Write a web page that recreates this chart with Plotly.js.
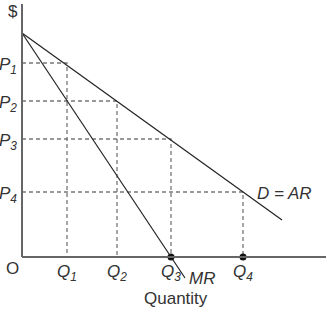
<!DOCTYPE html>
<html>
<head>
<meta charset="utf-8">
<script src="https://cdn.plot.ly/plotly-3.0.1.min.js"></script>
<style>html,body{margin:0;padding:0;background:#fff;}#chart{width:326px;height:310px;}</style>
</head>
<body>
<div id="chart"></div>
<script>
// Read values (data units)
var demandQ = [0, 26];
var demandP = [22.4, 3.7];
var mrQ = [0, 16.3];
var mrP = [22.4, -2.1];
var qLevels = [4.5, 9.5, 14.9, 22.1];
var pLevels = [19.4, 15.6, 11.8, 6.5];
var qLabels = ['<i>Q<sub>1</sub></i>', '<i>Q<sub>2</sub></i>', '<i>Q<sub>3</sub></i>', '<i>Q<sub>4</sub></i>'];
var pLabels = ['<i>P<sub>1</sub></i>', '<i>P<sub>2</sub></i>', '<i>P<sub>3</sub></i>', '<i>P<sub>4</sub></i>'];
var dotQ = [14.9, 22.1];
var dotP = [0, 0];

var traces = [];
var dashStyle = {color: '#777', width: 1.3, dash: '4px,3px'};
for (var i = 0; i < qLevels.length; i++) {
  traces.push({x: [0, qLevels[i], qLevels[i]], y: [pLevels[i], pLevels[i], 0],
    mode: 'lines', line: dashStyle, hoverinfo: 'skip', showlegend: false});
}
traces.push({x: demandQ, y: demandP, mode: 'lines', line: {color: '#222', width: 1.2}, showlegend: false});
traces.push({x: mrQ, y: mrP, mode: 'lines', line: {color: '#222', width: 1.2}, showlegend: false});
traces.push({x: dotQ, y: dotP, mode: 'markers', marker: {color: '#111', size: 7}, showlegend: false});

var font = {family: 'Liberation Sans, Arial, sans-serif', size: 17, color: '#333'};
var ann = [];
for (var j = 0; j < qLevels.length; j++) {
  ann.push({x: qLevels[j], y: -1.6, xref: 'x', yref: 'y', text: qLabels[j], showarrow: false, font: font, xanchor: 'center', yanchor: 'middle'});
  ann.push({x: -0.35, y: pLevels[j] - 0.3, xref: 'x', yref: 'y', text: pLabels[j], showarrow: false, font: font, xanchor: 'right', yanchor: 'middle'});
}
ann.push({x: -1.0, y: -1.1, xref: 'x', yref: 'y', text: 'O', showarrow: false, font: font, xanchor: 'center', yanchor: 'middle'});
ann.push({x: -0.9, y: 24.6, xref: 'x', yref: 'y', text: '$', showarrow: false, font: font, xanchor: 'center', yanchor: 'middle'});
ann.push({x: 16.5, y: -2.1, xref: 'x', yref: 'y', text: '<i>MR</i>', showarrow: false, font: font, xanchor: 'left', yanchor: 'middle'});
ann.push({x: 23.3, y: 6.4, xref: 'x', yref: 'y', text: '<i>D = AR</i>', showarrow: false, font: font, xanchor: 'left', yanchor: 'middle'});
ann.push({x: 15.4, y: -4.1, xref: 'x', yref: 'y', text: 'Quantity', showarrow: false, font: font, xanchor: 'center', yanchor: 'middle'});

var layout = {
  width: 326, height: 310,
  margin: {l: 0, r: 0, t: 0, b: 0},
  paper_bgcolor: '#fff', plot_bgcolor: '#fff',
  xaxis: {range: [-2.2, 30.4], visible: false, fixedrange: true},
  yaxis: {range: [-5.3, 25.7], visible: false, fixedrange: true},
  shapes: [
    {type: 'line', xref: 'x', yref: 'y', x0: 0, x1: 0, y0: 0, y1: 25.3, line: {color: '#666', width: 2}},
    {type: 'line', xref: 'x', yref: 'y', x0: 0, x1: 30.4, y0: 0, y1: 0, line: {color: '#666', width: 2}}
  ],
  annotations: ann,
  showlegend: false
};
Plotly.newPlot('chart', traces, layout, {staticPlot: true, displayModeBar: false});
</script>
</body>
</html>
